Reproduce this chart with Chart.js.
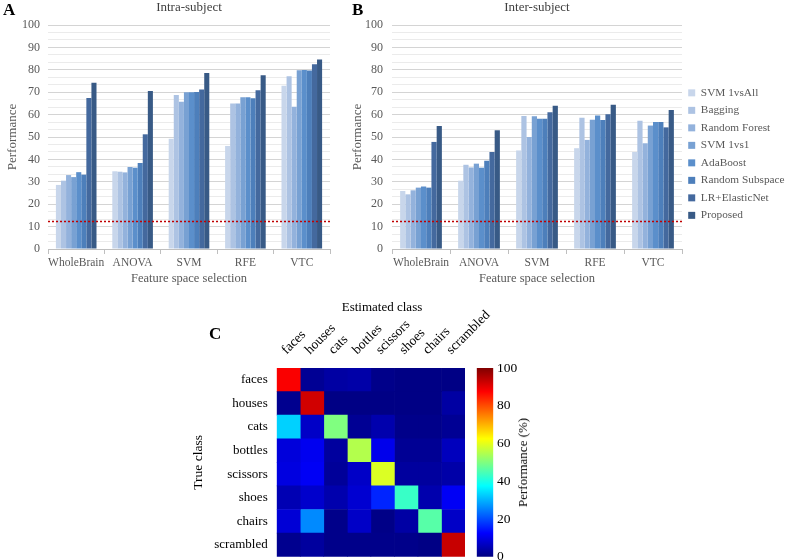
<!DOCTYPE html>
<html><head><meta charset="utf-8">
<script src="https://cdn.jsdelivr.net/npm/chart.js@4.4.1/dist/chart.umd.min.js"></script>
<style>
html,body{margin:0;padding:0;background:#fff;overflow:hidden}
#wrap{position:relative;width:785px;height:560px;font-family:"Liberation Serif",serif;color:#000}
canvas{position:absolute}
.lbl{position:absolute;white-space:nowrap;line-height:1;font-weight:normal}
.letter{font-weight:bold;font-size:17px}
.vert{writing-mode:vertical-rl;transform:rotate(180deg);font-size:13px;color:#000}
</style></head><body>
<div id="wrap">
<canvas id="cA" width="340" height="290" style="left:0;top:0"></canvas>
<canvas id="cB" width="440" height="290" style="left:345px;top:0"></canvas>
<canvas id="cC" width="340" height="270" style="left:185px;top:290px"></canvas>
<canvas id="cBar" width="60" height="205" style="left:470px;top:355px"></canvas>
<div class="lbl letter" style="left:3px;top:1px">A</div>
<div class="lbl letter" style="left:352px;top:1px">B</div>
<div class="lbl letter" style="left:209px;top:325px">C</div>
<div class="lbl" style="left:382px;top:300px;font-size:13px;transform:translateX(-50%)">Estimated class</div>
<div class="lbl vert" style="left:516px;top:418px">Performance (%)</div>
</div>
<script>
// ---------- data ----------
const categories = ['WholeBrain', 'ANOVA', 'SVM', 'RFE', 'VTC'];
const methods = ['SVM 1vsAll', 'Bagging', 'Random Forest', 'SVM 1vs1', 'AdaBoost', 'Random Subspace', 'LR+ElasticNet', 'Proposed'];
const chanceLevel = 12.5;

// Intra-subject (panel A), one array per method over categories
const intraSVM1vsAll      = [28.6, 34.7, 49.2, 46.0, 72.9];
const intraBagging        = [30.5, 34.5, 68.8, 64.9, 77.1];
const intraRandomForest   = [33.0, 34.2, 65.7, 65.0, 63.5];
const intraSVM1vs1        = [32.1, 36.6, 70.0, 67.7, 79.8];
const intraAdaBoost       = [34.3, 36.3, 70.0, 67.7, 79.9];
const intraRandomSubspace = [33.2, 38.4, 70.1, 67.3, 79.7];
const intraLRElasticNet   = [67.4, 51.2, 71.2, 70.9, 82.5];
const intraProposed       = [74.2, 70.5, 78.6, 77.6, 84.6];

// Inter-subject (panel B)
const interSVM1vsAll      = [25.9, 30.5, 44.0, 45.0, 43.3];
const interBagging        = [24.4, 37.6, 59.4, 58.6, 57.3];
const interRandomForest   = [26.2, 36.4, 50.0, 48.7, 47.2];
const interSVM1vs1        = [27.4, 38.1, 59.3, 57.7, 55.1];
const interAdaBoost       = [27.9, 36.3, 58.2, 59.6, 56.7];
const interRandomSubspace = [27.4, 39.4, 58.2, 57.6, 56.7];
const interLRElasticNet   = [47.8, 43.3, 61.0, 60.2, 54.3];
const interProposed       = [54.9, 53.0, 63.9, 64.4, 62.1];

// Confusion matrix (panel C), rows = true class, columns = estimated class, in %
const trueClasses = ['faces', 'houses', 'cats', 'bottles', 'scissors', 'shoes', 'chairs', 'scrambled'];
const estimatedClasses = ['faces', 'houses', 'cats', 'bottles', 'scissors', 'shoes', 'chairs', 'scrambled'];
const confFaces     = [88, 2, 3.5, 4, 1, 0.5, 0.5, 0.5];
const confHouses    = [1.5, 92, 0.5, 0.5, 0.5, 0.5, 0.5, 3.5];
const confCats      = [33, 7, 50, 2, 4.5, 1, 1, 2];
const confBottles   = [9, 11, 3, 55, 10.5, 2, 2, 6];
const confScissors  = [9.5, 11.5, 2.5, 7, 59, 3, 3, 4];
const confShoes     = [5, 7.5, 4.5, 8, 16, 43, 4.5, 11.5];
const confChairs    = [8.5, 26, 1, 7, 0.7, 3.6, 46, 7];
const confScrambled = [1.5, 3, 1, 1, 1, 1, 0.5, 93];
const colorbarRange = [0, 100];

// ---------- styling ----------
const SERIF = '"Liberation Serif", "Times New Roman", serif';
const barColors = ['#c8d6eb', '#adc3e3', '#93b2dc', '#78a1d3', '#5b8fcb', '#4d7fbb', '#44699e', '#385a86'];
const GRAY = '#595959';

function jetRGB(v) {
  const c = x => Math.round(255 * Math.max(0, Math.min(1, x)));
  return [c(1.5 - Math.abs(4 * v - 3)), c(1.5 - Math.abs(4 * v - 2)), c(1.5 - Math.abs(4 * v - 1))];
}
function jet(v) { const [r, g, b] = jetRGB(v); return `rgb(${r},${g},${b})`; }

const yGridValues = [];
for (let i = 0; i <= 30; i++) yGridValues.push(i * 10 / 3);
const isMajor = v => Math.abs(v - Math.round(v / 10) * 10) < 0.01;

const noPad = s => { s.paddingLeft = 0; s.paddingRight = 0; s.paddingTop = 0; s.paddingBottom = 0; };

// dotted chance-level line drawn through the y scale
const chanceLine = {
  id: 'chanceLine',
  afterDatasetsDraw(chart) {
    const { ctx, chartArea, scales } = chart;
    const y = Math.round(scales.y.getPixelForValue(chanceLevel)) + 0.5;
    ctx.save();
    ctx.strokeStyle = '#c00000';
    ctx.lineWidth = 1.6;
    ctx.setLineDash([2, 2]);
    ctx.beginPath();
    ctx.moveTo(chartArea.left, y);
    ctx.lineTo(chartArea.right, y);
    ctx.stroke();
    ctx.restore();
  }
};

function barChart(id, title, series, yAxisWidth, yTickPad, rightPad, withLegend) {
  const datasets = methods.map((m, i) => ({
    label: m, data: series[i], backgroundColor: barColors[i],
    borderWidth: 0, barPercentage: 1, categoryPercentage: 0.72
  }));
  return new Chart(document.getElementById(id), {
    type: 'bar',
    data: { labels: categories, datasets },
    plugins: [chanceLine],
    options: {
      responsive: false, animation: false, devicePixelRatio: 1,
      layout: { padding: { left: 0, right: rightPad, top: 0, bottom: 0 } },
      plugins: {
        title: { display: true, text: title, fullSize: false, color: '#404040',
          font: { family: SERIF, size: 13, weight: 'normal', lineHeight: 1.2 }, padding: { top: 0, bottom: 9.4 } },
        legend: withLegend ? {
          display: true, position: 'right', align: 'start', maxWidth: 103, fullSize: true,
          title: { display: true, text: ' ', font: { size: 10, lineHeight: 1 }, padding: { top: 71, bottom: 0 } },
          labels: { boxWidth: 7, boxHeight: 7, padding: 6.2, color: GRAY,
            font: { family: SERIF, size: 11.3 } }
        } : { display: false },
        tooltip: { enabled: false }
      },
      scales: {
        x: {
          type: 'category', offset: true,
          grid: { offset: true, display: true, drawOnChartArea: false, drawTicks: true, tickLength: 5, color: '#bfbfbf' },
          border: { display: true, color: '#bfbfbf' },
          ticks: { color: GRAY, font: { family: SERIF, size: 11.5 }, padding: 2, maxRotation: 0, autoSkip: false },
          title: { display: true, text: 'Feature space selection', color: GRAY,
            font: { family: SERIF, size: 12.5 }, padding: { top: 0, bottom: 4 } },
          afterFit: s => { s.height = 41; noPad(s); }
        },
        y: {
          type: 'linear', min: 0, max: 100,
          afterBuildTicks: s => { s.ticks = yGridValues.map(v => ({ value: v })); },
          ticks: { autoSkip: false, padding: yTickPad, color: GRAY, font: { family: SERIF, size: 12 },
            callback: v => isMajor(v) ? String(Math.round(v)) : '' },
          grid: { drawTicks: false, color: c => isMajor(c.tick.value) ? '#d4d4d4' : '#ebebeb', lineWidth: 1 },
          border: { display: false },
          title: { display: true, text: 'Performance', color: GRAY,
            font: { family: SERIF, size: 13 }, padding: { top: 5, bottom: 0 } },
          afterFit: s => { s.width = yAxisWidth; noPad(s); }
        }
      }
    }
  });
}

barChart('cA', 'Intra-subject',
  [intraSVM1vsAll, intraBagging, intraRandomForest, intraSVM1vs1, intraAdaBoost, intraRandomSubspace, intraLRElasticNet, intraProposed],
  48, 8, 10, false);
barChart('cB', 'Inter-subject',
  [interSVM1vsAll, interBagging, interRandomForest, interSVM1vs1, interAdaBoost, interRandomSubspace, interLRElasticNet, interProposed],
  47, 9, 0, true);

// ---------- confusion matrix ----------
const confusion = [confFaces, confHouses, confCats, confBottles, confScissors, confShoes, confChairs, confScrambled];
new Chart(document.getElementById('cC'), {
  type: 'bar',
  data: {
    labels: trueClasses,
    datasets: estimatedClasses.map((c, j) => ({
      label: c, data: trueClasses.map(() => 1),
      backgroundColor: confusion.map(row => jet(row[j] / 100)),
      borderWidth: 0, barPercentage: 1, categoryPercentage: 1
    }))
  },
  options: {
    indexAxis: 'y', responsive: false, animation: false, devicePixelRatio: 1,
    layout: { padding: { left: 0, right: 60, top: 0, bottom: 3.3 } },
    plugins: { legend: { display: false }, tooltip: { enabled: false } },
    scales: {
      x: {
        type: 'linear', position: 'top', stacked: true, min: 0, max: estimatedClasses.length,
        afterBuildTicks: s => { s.ticks = estimatedClasses.map((_, i) => ({ value: i + 0.5 })); },
        ticks: { autoSkip: false, minRotation: 45, maxRotation: 45, padding: 10, labelOffset: 7, color: '#000',
          font: { family: SERIF, size: 13.5 }, callback: (v, i) => estimatedClasses[i] },
        grid: { display: false, drawTicks: false },
        border: { display: false },
        afterFit: s => { s.height = 78; noPad(s); }
      },
      y: {
        type: 'category', stacked: true,
        ticks: { color: '#000', font: { family: SERIF, size: 13 }, padding: 9 },
        grid: { display: false, drawTicks: false },
        border: { display: false },
        title: { display: true, text: 'True class', color: '#000',
          font: { family: SERIF, size: 13.5 }, padding: { top: 5, bottom: 0 } },
        afterFit: s => { s.width = 91.7; noPad(s); }
      }
    }
  }
});

// ---------- colorbar ----------
const jetStops = [0, 0.125, 0.375, 0.625, 0.875, 1];
new Chart(document.getElementById('cBar'), {
  type: 'bar',
  data: {
    labels: [''],
    datasets: [{
      data: [colorbarRange],
      backgroundColor: ctx => {
        const ch = ctx.chart;
        if (!ch.chartArea) return '#000080';
        const y = ch.scales.y;
        const g = ch.ctx.createLinearGradient(0, y.getPixelForValue(colorbarRange[0]), 0, y.getPixelForValue(colorbarRange[1]));
        jetStops.forEach(s => g.addColorStop(s, jet(s)));
        return g;
      },
      borderWidth: 0, barPercentage: 1, categoryPercentage: 1
    }]
  },
  options: {
    responsive: false, animation: false, devicePixelRatio: 1,
    layout: { padding: { left: 6.7, right: 0, top: 13, bottom: 3.3 } },
    plugins: { legend: { display: false }, tooltip: { enabled: false } },
    scales: {
      x: { display: false },
      y: {
        position: 'right', min: colorbarRange[0], max: colorbarRange[1],
        ticks: { stepSize: 20, padding: 3.7, color: '#000', font: { family: SERIF, size: 13.5 } },
        grid: { display: false, drawTicks: false },
        border: { display: false },
        afterFit: s => { s.width = 36.7; noPad(s); }
      }
    }
  }
});
</script>
</body></html>
